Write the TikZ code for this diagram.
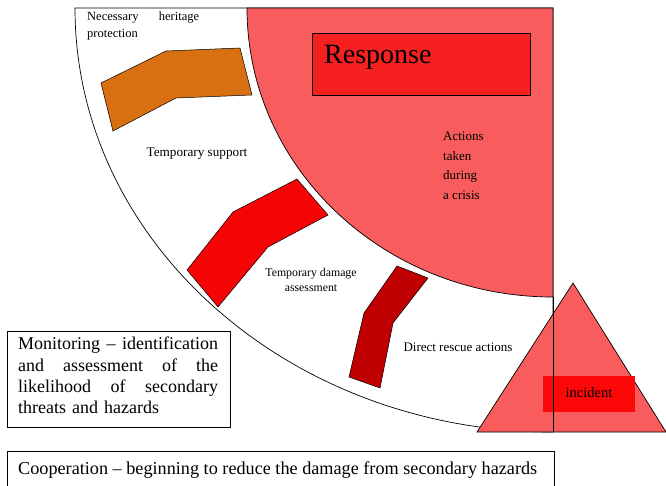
\documentclass[tikz,border=0pt]{standalone}
\usepackage{fontspec}
\setmainfont{Liberation Serif}
\definecolor{softred}{RGB}{249,92,92}
\definecolor{boxred}{RGB}{246,32,32}
\definecolor{brightred}{RGB}{252,8,8}
\definecolor{heritageorange}{RGB}{216,112,18}
\definecolor{supportred}{RGB}{244,4,4}
\definecolor{rescuered}{RGB}{192,0,0}
% a line spread over the full width: words separated by \hfill
\newcommand{\fullline}[1]{\makebox[\hsize]{#1}}
\begin{document}
\begin{tikzpicture}[x=1pt,y=1pt,
  outline/.style={draw=black,line width=0.7pt},
  band/.style={draw=black,line width=0.5pt},
  label/.style={inner sep=0pt,align=center},
  textbox/.style={draw=black,line width=0.8pt,inner sep=0pt}]
\useasboundingbox (0,0) rectangle (666,485);
\fill[white] (0,0) rectangle (666,485);

% outer quarter ellipse (crisis phase)
\draw[outline,fill=white] (553,477) -- (75,477)
  arc[start angle=180,end angle=270,x radius=478,y radius=424] -- cycle;

% inner quarter ellipse (response)
\draw[outline,fill=softred] (553,477) -- (247,477)
  arc[start angle=180,end angle=270,x radius=306,y radius=289] -- cycle;

% response title box
\node[draw=black,line width=0.8pt,fill=boxred,minimum width=218,minimum height=62,inner sep=0pt] (resp) at (421,421) {};
\node[anchor=base west,font=\fontsize{28}{32}\selectfont,inner sep=0pt] (resptxt) at (324,421) {Response};

\node[anchor=west,font=\fontsize{13}{19.5}\selectfont,align=left,inner sep=0pt] (actions) at (443,319)
  {Actions\\taken\\during\\a crisis};

% bent bands
\draw[band,fill=heritageorange] (101,402) -- (166,434) -- (240,437) -- (252,390) -- (176,387) -- (113,354) -- cycle;
\draw[band,fill=supportred] (187,215) -- (233,273) -- (297,306) -- (328,270) -- (268,238) -- (218,178) -- cycle;
\draw[band,fill=rescuered] (397,219) -- (428,207) -- (393,162) -- (380,97) -- (349,108) -- (364,172) -- cycle;

% band labels
\node[anchor=north west,font=\fontsize{12.5}{17}\selectfont,text width=112,align=left,inner sep=0pt] (heritage) at (87,473)
  {\fullline{Necessary\hfill heritage}\\protection};
\node[label,font=\fontsize{13.2}{15}\selectfont] (support) at (197,331) {Temporary support};
\node[label,font=\fontsize{11.8}{15}\selectfont] (damage) at (311,205) {Temporary damage\\assessment};
\node[label,font=\fontsize{13}{15}\selectfont] (rescue) at (458,138) {Direct rescue actions};

% incident triangle
\draw[outline,fill=softred] (573,202) -- (477,53) -- (666,53) -- cycle;
\node[fill=brightred,minimum width=92,minimum height=36,inner sep=0pt] (incbox) at (589,91) {};
\node[font=\fontsize{14.5}{16}\selectfont,inner sep=0pt] (inc) at (589,92) {incident};
\coordinate (edgetop) at (553,188);
\coordinate (edgebot) at (553,53);
\draw[line width=0.7pt] (edgetop) -- (edgebot);

% text boxes
\node[textbox,anchor=north west,minimum width=223,minimum height=96] (monbox) at (7,154) {};
\node[anchor=north west,text width=200,align=left,inner sep=0pt,
  font=\fontsize{18}{21.3}\selectfont] (montxt) at (18,148)
  {\fullline{Monitoring\hfill--\hfill identification}\\
   \fullline{and\hfill assessment\hfill of\hfill the}\\
   \fullline{likelihood\hfill of\hfill secondary}\\
   threats and hazards};
\node[textbox,anchor=north west,minimum width=547,minimum height=40] (coopbox) at (7,34) {};
\node[anchor=base west,inner sep=0pt,font=\fontsize{18.2}{20}\selectfont] (cooptxt) at (18,11)
  {Cooperation -- beginning to reduce the damage from secondary hazards};
\end{tikzpicture}
\end{document}
